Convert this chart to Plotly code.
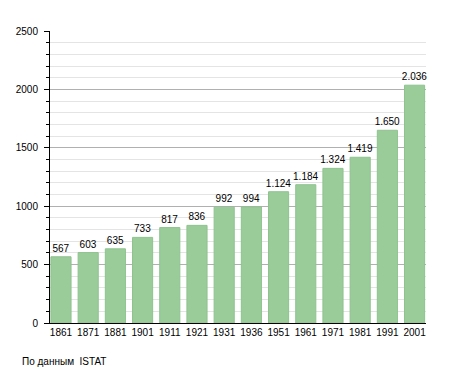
import plotly.graph_objects as go

years = ["1861", "1871", "1881", "1901", "1911", "1921", "1931", "1936",
         "1951", "1961", "1971", "1981", "1991", "2001"]
population = [567, 603, 635, 733, 817, 836, 992, 994, 1124, 1184, 1324, 1419, 1650, 2036]
labels = [f"{v:,}".replace(",", ".") for v in population]
y_ticks = [0, 500, 1000, 1500, 2000, 2500]
footnote = "По данным  ISTAT"

FONT = "Liberation Sans, Arial, sans-serif"

fig = go.Figure(go.Bar(
    x=years, y=population, text=labels, textposition="outside",
    constraintext="none",
    textfont=dict(family=FONT, size=10, color="#000"),
    marker=dict(color="#99cc99", line=dict(color="#8fc28f", width=1)),
    cliponaxis=False, width=0.74, hoverinfo="skip",
))

fig.update_layout(
    width=455, height=373,
    margin=dict(l=50, r=29, t=31, b=50, autoexpand=False),
    paper_bgcolor="white", plot_bgcolor="white",
    showlegend=False,
    font=dict(family=FONT, size=10, color="#000"),
    xaxis=dict(
        type="category", range=[-0.404, 13.42],
        showline=True, linecolor="#000", linewidth=1,
        ticks="", showgrid=False, tickfont=dict(size=10),
    ),
    yaxis=dict(
        range=[0, 2500], tickvals=y_ticks,
        showline=True, linecolor="#000", linewidth=1,
        ticks="outside", ticklen=5, tickcolor="#000",
        showgrid=True, gridcolor="#b0b0b0", gridwidth=1,
        zeroline=False, tickfont=dict(size=10),
        ticklabelstandoff=4,
        minor=dict(dtick=100, ticks="outside", ticklen=3, tickcolor="#000",
                   showgrid=True, gridcolor="#e4e4e4", gridwidth=1),
    ),
    annotations=[dict(
        text=footnote, xref="paper", yref="paper",
        x=-30/376, y=-38/292, xanchor="left", yanchor="middle",
        showarrow=False, font=dict(family=FONT, size=10, color="#000"),
    )],
)

fig.write_html("out.html", config={"displayModeBar": False},
               post_script="document.body.style.margin='0';")
